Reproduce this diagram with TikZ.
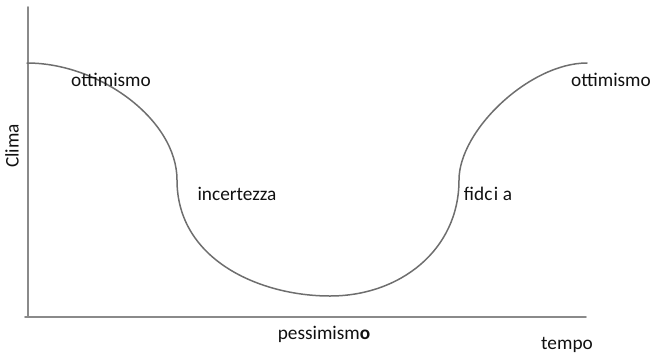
\documentclass[tikz,border=0pt]{standalone}
\usepackage{fontspec}
\setmainfont{Carlito}
\usepackage{xcolor}
\usetikzlibrary{positioning}
\definecolor{axisgray}{HTML}{8A8A8A}
\definecolor{curvegray}{HTML}{6E6E6E}
\definecolor{ink}{HTML}{111111}
\tikzset{
  axis/.style={draw=axisgray,line width=1.8pt,line cap=round},
  curva/.style={draw=curvegray,line width=1.5pt,line cap=round},
  lbl/.style={font=\fontsize{19.3}{23}\selectfont,text=ink,inner sep=0pt},
}
\begin{document}
\begin{tikzpicture}[x=1pt,y=-1pt]
\useasboundingbox (0,0) rectangle (653,354);
% axes
\coordinate (top) at (28,7);
\coordinate (orig) at (28,317);
\coordinate (xend) at (586,317);
\draw[axis] (top) -- (orig) -- (xend);
\draw[axis] (orig) -- ++(-3,0);
% curve of the climate
\draw[curva] (27,63) .. controls (100,63) and (177,120) .. (177,180)
  .. controls (177,260) and (260,296) .. (330,296)
  .. controls (400,296) and (459,250) .. (459,180)
  .. controls (459,130) and (530,63) .. (587,63);
% labels
\node[lbl] (ott1) at (111,80) {ottimismo};
\node[lbl] (inc) at (237,194) {incertezza};
\node[lbl] (fid) at (488,194) {f{}idc{\kern1.5pt}i a};
\node[lbl] (ott2) at (611,80) {ottimismo};
\node[lbl] (pess) at (324,334) {pessimism\textbf{o}};
\node[lbl] (tempo) at (567,345) {tempo};
\node[lbl,rotate=90] (clima) at (12,146) {Clima};
\end{tikzpicture}
\end{document}
